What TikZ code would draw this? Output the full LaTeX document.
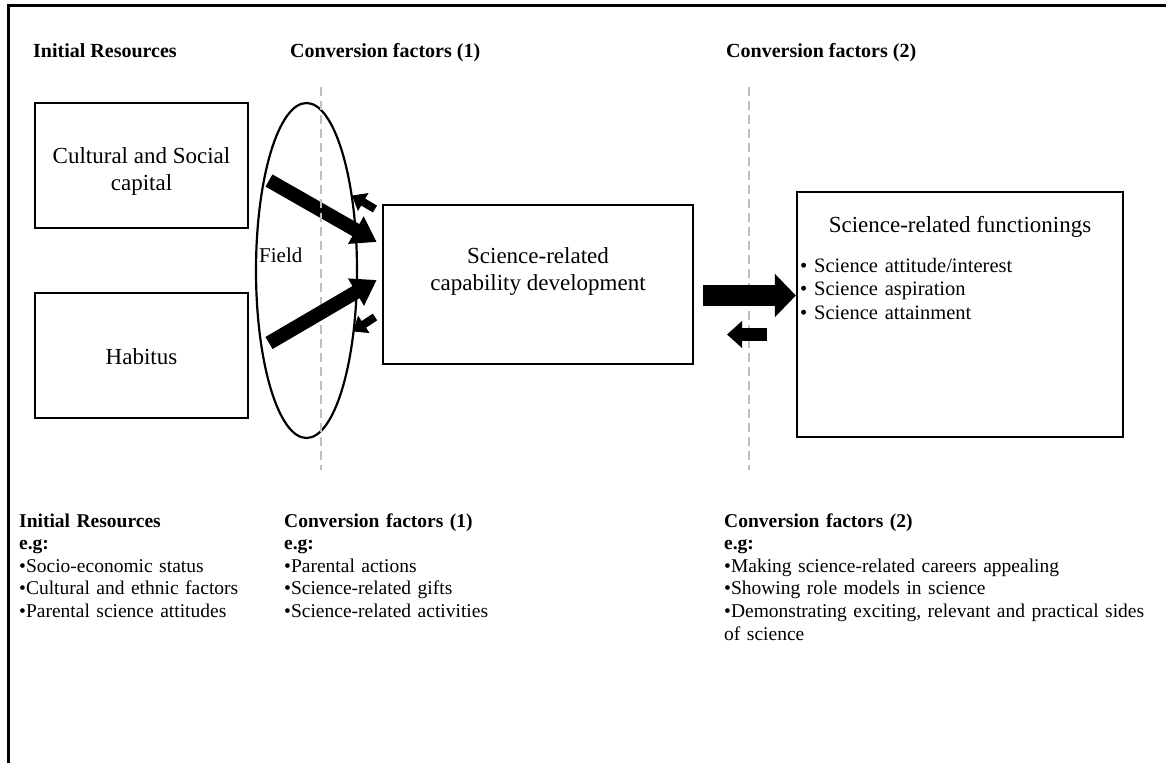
\documentclass[tikz,border=0pt]{standalone}
\usepackage{fontspec}
\setmainfont{Liberation Serif}
\usetikzlibrary{arrows.meta,shapes.geometric}
\begin{document}
\begin{tikzpicture}[x=1pt,y=-1pt,
  hdr/.style={font=\fontsize{20}{23}\selectfont\bfseries, anchor=base west, inner sep=0pt},
  box/.style={draw, line width=2.2pt, inner sep=0pt},
  btxt/.style={font=\fontsize{23}{27}\selectfont, align=center, inner sep=0pt},
  col/.style={font=\fontsize{19.5}{22.6}\selectfont, anchor=base west, inner sep=0pt, text width=460pt, align=left},
  dashln/.style={draw=black!25, line width=2.8pt, dash pattern=on 9pt off 5pt},
  bigarrow/.style={line width=14pt, -{Triangle[width=30pt,length=24pt]}},
  smallarrow/.style={line width=8pt, -{Triangle[width=20pt,length=13pt]}},
  fwdarrow/.style={line width=21pt, -{Triangle[width=42pt,length=21pt]}},
  backarrow/.style={line width=13pt, -{Triangle[width=26pt,length=15pt]}}
]
\useasboundingbox (0,0) rectangle (1166,763);
\fill[white] (0,0) rectangle (1166,763);
% frame
\draw[line width=3pt] (8,763) -- (8,5) -- (1166,5);

% headers
\node[hdr] (h1) at (33,57) {Initial Resources};
\node[hdr] (h2) at (290,57) {Conversion factors (1)};
\node[hdr] (h3) at (726,57) {Conversion factors (2)};

% left boxes
\node[box, minimum width=213pt, minimum height=125pt] (cs) at (141.5,165.5) {};
\node[btxt] (cst) at (141.5,171) {Cultural and Social\\capital};
\node[box, minimum width=213pt, minimum height=125pt] (hab) at (141.5,355.5) {};
\node[btxt] (habt) at (141.5,357) {Habitus};

% field ellipse
\node[ellipse, draw, line width=2.2pt, inner sep=0pt, minimum width=101pt, minimum height=335pt] (field) at (306.5,270.5) {};
\node[font=\fontsize{21}{24}\selectfont, anchor=base west, inner sep=0pt] (fieldt) at (259,262) {Field};

% capability box
\node[box, minimum width=310pt, minimum height=159pt] (cap) at (538,284.5) {};
\node[btxt] (capt) at (538,271) {Science-related\\capability development};

% functionings box
\node[box, minimum width=326pt, minimum height=245pt] (fun) at (960,314.5) {};
\node[font=\fontsize{23}{27}\selectfont, anchor=base, inner sep=0pt] (funt) at (960,232) {Science-related functionings};
\node[font=\fontsize{20.5}{23.5}\selectfont, anchor=base west, inner sep=0pt, text width=300pt, align=left] (funl) at (800,272)
  {\textbullet\ Science attitude/interest\\\textbullet\ Science aspiration\\\textbullet\ Science attainment};

% arrow coordinates
\coordinate (u1) at (269,180.5);
\coordinate (u2) at (376.7,242);
\coordinate (l1) at (269,343);
\coordinate (l2) at (376.7,280);
\coordinate (s1) at (375,209);
\coordinate (s2) at (352,195.5);
\coordinate (t1) at (375,317);
\coordinate (t2) at (353,331.5);
\coordinate (m1) at (703,295.5);
\coordinate (b1) at (767,334.5);
\coordinate (b2) at (727,334.5);

\draw[bigarrow] (u1) -- (u2);

% dashed lines
\coordinate (d1a) at (321,87);
\coordinate (d1b) at (321,470);
\coordinate (d2a) at (749,87);
\coordinate (d2b) at (749,470);
\draw[dashln] (d1a) -- (d1b);
\draw[dashln] (d2a) -- (d2b);

\draw[bigarrow] (l1) -- (l2);
\draw[smallarrow] (s1) -- (s2);
\draw[smallarrow] (t1) -- (t2);
\draw[fwdarrow] (m1) -- (m1 -| fun.west);
\draw[backarrow] (b1) -- (b2);

% bottom columns
\node[col] (c1) at (19,527) {\textbf{Initial Resources}\\\textbf{e.g:}\\•Socio-economic status\\•Cultural and ethnic factors\\•Parental science attitudes};
\node[col] (c2) at (284,527) {\textbf{Conversion factors (1)}\\\textbf{e.g:}\\•Parental actions\\•Science-related gifts\\•Science-related activities};
\node[col] (c3) at (724,527) {\textbf{Conversion factors (2)}\\\textbf{e.g:}\\•Making science-related careers appealing\\•Showing role models in science\\•Demonstrating exciting, relevant and practical sides\\of science};
\end{tikzpicture}
\end{document}
